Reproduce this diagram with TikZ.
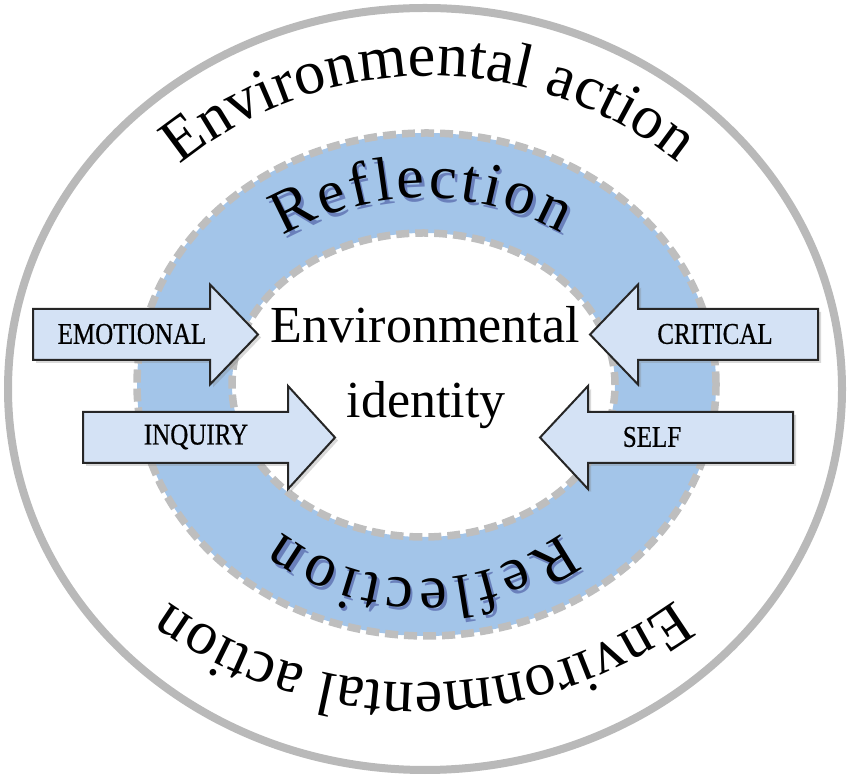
\documentclass[tikz,border=0pt]{standalone}
\usepackage{fontspec}
\usepackage{graphicx}
\setmainfont{Liberation Serif}
\newfontfamily\lblfont[FakeBold=0.7]{Liberation Serif}
\usetikzlibrary{decorations.text,calc,shadows}
\definecolor{ringblue}{RGB}{163,197,233}
\definecolor{arrowfill}{RGB}{212,226,245}
\definecolor{ringgray}{RGB}{190,190,190}
\definecolor{outergray}{RGB}{185,185,185}
\newcommand{\arrowshape}[6]{% #1 back end, #2 head base, #3 tip, #4 y centre, #5 body half, #6 head half
  \draw[arrowbox] (#1,#4+#5) -- (#2,#4+#5) -- (#2,#4+#6) -- (#3,#4) -- (#2,#4-#6) -- (#2,#4-#5) -- (#1,#4-#5) -- cycle;}
\begin{document}
\begin{tikzpicture}[x=1pt,y=1pt,
  arrowbox/.style={fill=arrowfill, draw=black!85, line width=2pt, line join=miter,
    drop shadow={shadow xshift=3pt, shadow yshift=-3pt, opacity=0.3}},
  lbl/.style={font=\lblfont\fontsize{25}{25}\selectfont, inner sep=0pt},
  bigtxt/.style={font=\fontsize{52}{52}\selectfont, inner sep=0pt, anchor=base},
  ringline/.style={ringgray, line width=7.5pt, dash pattern=on 13pt off 6pt}]
\useasboundingbox (0,0) rectangle (850,778);

% outer circle
\draw[outergray, line width=8pt] (425,389) ellipse [x radius=417, y radius=381];

% blue ring
\fill[ringblue, even odd rule] (426.5,393.5) ellipse [x radius=289.5, y radius=251.5]
  (423.5,393) ellipse [x radius=191.5, y radius=152];
\draw[ringline] (426.5,393.5) ellipse [x radius=289.5, y radius=251.5];
\draw[ringline] (423.5,393) ellipse [x radius=191.5, y radius=152];

% curved texts: Environmental action
\path[decorate, decoration={text along path, text={|\fontsize{62}{62}\selectfont|Environmental action}, text align={fit to path}}]
  ($(430,306)+(129.2:396)$) arc[start angle=129.2, end angle=51.3, radius=396];
\path[decorate, decoration={text along path, text={|\fontsize{62}{62}\selectfont|Environmental action}, text align={fit to path}}]
  ($(421,525)+(-53.8:430)$) arc[start angle=-53.8, end angle=-125.8, radius=430];

% curved texts: Reflection (shadow then text)
\begin{scope}[shift={(2.5,-3.5)}, opacity=0.35]
\path[decorate, decoration={text along path, text color=black!60!blue, text={|\fontsize{62}{62}\selectfont|Reflection}, text align={fit to path}}]
  ($(425,299)+(120.3:281)$) arc[start angle=120.3, end angle=61, radius=281];
\path[decorate, decoration={text along path, text color=black!60!blue, text={|\fontsize{62}{62}\selectfont|Reflection}, text align={fit to path}}]
  ($(422,433)+(-53.3:234)$) arc[start angle=-53.3, end angle=-126.7, radius=234];
\end{scope}
\path[decorate, decoration={text along path, text={|\fontsize{62}{62}\selectfont|Reflection}, text align={fit to path}}]
  ($(425,299)+(120.3:281)$) arc[start angle=120.3, end angle=61, radius=281];
\path[decorate, decoration={text along path, text={|\fontsize{62}{62}\selectfont|Reflection}, text align={fit to path}}]
  ($(422,433)+(-53.3:234)$) arc[start angle=-53.3, end angle=-126.7, radius=234];

% arrows
\arrowshape{33}{210}{258}{443.5}{25.5}{50}
\arrowshape{83}{288}{335}{340.5}{25.5}{51.5}
\arrowshape{818}{638}{590}{443.5}{25.5}{50}
\arrowshape{793}{588}{540}{340.5}{25.5}{51.5}

\node[lbl] (emo) at (132,444) {\scalebox{1}[1.2]{EMOTIONAL}};
\node[lbl] (inq) at (196,341) {\scalebox{1}[1.2]{INQUIRY}};
\node[lbl] (cri) at (715,444) {\scalebox{1}[1.2]{CRITICAL}};
\node[lbl] (slf) at (652,341) {\scalebox{1}[1.2]{SELF}};

% centre text
\node[bigtxt] (env) at (425,435) {Environmental};
\node[bigtxt] (idt) at (426,360) {identity};
\end{tikzpicture}
\end{document}
